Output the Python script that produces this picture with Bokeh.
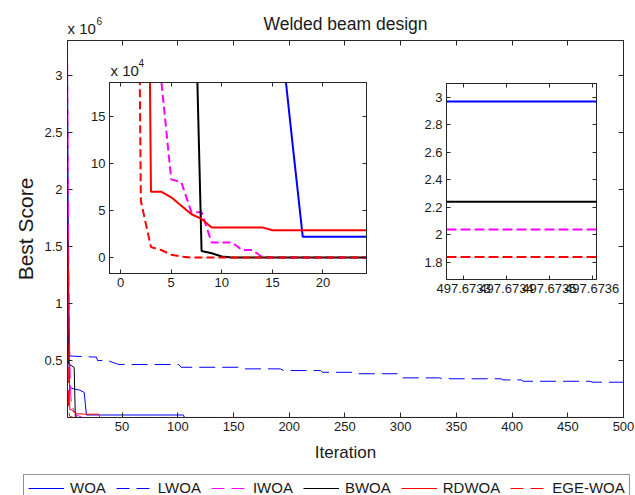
import numpy as np
from bokeh.plotting import figure
from bokeh.models import (Range1d, LinearAxis, FixedTicker, Legend, LegendItem, Label, Span)
from bokeh.embed import file_html
from bokeh.resources import INLINE

FONT = "Liberation Sans"
TXT = "#1a1a1a"
AX = "#262626"

# ---------------- data (iteration, best score) ----------------
woa_it = [1, 2, 3, 5, 12, 16, 17, 18, 105, 106, 500]
woa_v = [1.93e6, 0.6e6, 0.27e6, 0.255e6, 0.24e6, 0.22e6, 0.12e6, 2.2e4, 2.2e4, 2.97, 2.97]

lwoa_it = [1, 2, 3, 27, 28, 37, 47, 101, 103, 155, 159, 192, 195, 228, 230, 258, 262,
           297, 300, 335, 338, 390, 392, 408, 410, 470, 472, 500]
lwoa_v = [3.2e6, 1.0e6, 0.54e6, 0.53e6, 0.50e6, 0.50e6, 0.465e6, 0.465e6, 0.441e6, 0.441e6,
          0.427e6, 0.427e6, 0.412e6, 0.412e6, 0.397e6, 0.397e6, 0.384e6, 0.384e6, 0.348e6,
          0.348e6, 0.34e6, 0.34e6, 0.33e6, 0.33e6, 0.318e6, 0.318e6, 0.31e6, 0.31e6]

iwoa_it = [1, 2, 3, 4, 5, 6, 7, 8, 9, 11, 12, 13, 14, 15, 500]
iwoa_v = [3.31e6, 1.5e6, 0.5e6, 1.9e5, 8.3e4, 8.0e4, 4.8e4, 4.8e4, 1.6e4, 1.6e4, 0.8e4, 0.8e4,
          0.05e4, 2.04, 2.04]

bwoa_it = [1, 2, 7, 8, 9, 10, 11, 500]
bwoa_v = [0.9e6, 0.47e6, 0.44e6, 0.7e4, 0.45e4, 0.1e4, 2.24, 2.24]

rdwoa_it = [1, 2, 3, 4, 5, 6, 7, 8, 9, 14, 15, 29, 30, 500]
rdwoa_v = [1.8e6, 1.2e6, 7.0e4, 7.0e4, 6.4e4, 5.5e4, 4.6e4, 4.1e4, 3.2e4, 3.2e4, 2.9e4, 2.9e4,
           3.5, 3.5]

ege_it = [1, 2, 3, 4, 5, 6, 7, 500]
ege_v = [1.25e6, 6.0e4, 1.1e4, 0.8e4, 0.3e4, 0.1e4, 1.84, 1.84]

names = ["WOA", "LWOA", "IWOA", "BWOA", "RDWOA", "EGE-WOA"]
colors = ["#0000ff", "#0000ff", "#ff00ff", "#000000", "#ff0000", "#ff0000"]
dashed = [False, True, True, False, False, True]
series_it = [woa_it, lwoa_it, iwoa_it, bwoa_it, rdwoa_it, ege_it]
series_v = [woa_v, lwoa_v, iwoa_v, bwoa_v, rdwoa_v, ege_v]

# ticks
main_xticks = [50, 100, 150, 200, 250, 300, 350, 400, 450, 500]
main_yticks = [0.5e6, 1e6, 1.5e6, 2e6, 2.5e6, 3e6]
main_ylabels = ["0.5", "1", "1.5", "2", "2.5", "3"]
in1_xticks = [0, 5, 10, 15, 20]
in1_yticks = [0, 5e4, 10e4, 15e4]
in1_ylabels = ["0", "5", "10", "15"]
in2_xticks = [497.6733, 497.6734, 497.6735, 497.6736]
in2_xlabels = ["497.6733", "497.6734", "497.6735", "497.6736"]
in2_yticks = [1.8, 2.0, 2.2, 2.4, 2.6, 2.8, 3.0]
in2_ylabels = ["1.8", "2", "2.2", "2.4", "2.6", "2.8", "3"]


def style_axis(ax, ticks, tick_len, labels=None, size="13px"):
    ax.ticker = FixedTicker(ticks=ticks)
    if labels is not None:
        ax.major_label_overrides = {float(t): l for t, l in zip(ticks, labels)}
    ax.major_tick_in = tick_len
    ax.major_tick_out = 0
    ax.minor_tick_line_color = None
    ax.axis_line_color = AX
    ax.major_tick_line_color = AX
    ax.major_label_text_font = FONT
    ax.major_label_text_font_size = size
    ax.major_label_text_color = TXT
    ax.axis_label_text_font = FONT
    ax.axis_label_text_font_style = "normal"
    ax.axis_label_text_color = TXT


def box_axes(fig, xticks, yticks, tick_len):
    for loc, ticks in (("above", xticks), ("right", yticks)):
        ax = LinearAxis(ticker=FixedTicker(ticks=ticks),
                        major_label_overrides={float(t): "" for t in ticks},
                        major_label_text_font_size="1px",
                        major_label_standoff=0, major_tick_in=tick_len, major_tick_out=0,
                        minor_tick_line_color=None, axis_line_color=AX,
                        major_tick_line_color=AX)
        fig.add_layout(ax, loc)


# ---------------- main figure ----------------
p = figure(width=635, height=495, x_range=Range1d(1, 500), y_range=Range1d(1.84, 3.31e6),
           output_backend="svg", toolbar_location=None, title=None,
           min_border_left=67, min_border_right=12, min_border_top=40, min_border_bottom=78,
           background_fill_color="white", border_fill_color="white")
p.grid.visible = False
p.outline_line_color = AX

style_axis(p.xaxis[0], main_xticks, 5)
style_axis(p.yaxis[0], main_yticks, 5, main_ylabels)
p.xaxis[0].axis_label = "Iteration"
p.yaxis[0].axis_label = "Best Score"
p.xaxis[0].axis_label_text_font_size = "17px"
p.yaxis[0].axis_label_text_font_size = "21px"
p.xaxis[0].major_label_standoff = 4
p.yaxis[0].major_label_standoff = 5
p.xaxis[0].axis_label_standoff = 9
p.yaxis[0].axis_label_standoff = 4
box_axes(p, main_xticks, main_yticks, 5)

for it, v, c, d in zip(series_it, series_v, colors, dashed):
    p.line(it, v, line_color=c, line_width=1, line_dash=("16 7" if d else "solid"))

# ---------------- inset 1 ----------------
i1 = figure(frame_width=257, frame_height=191, x_range=Range1d(-1.1, 24.3),
            y_range=Range1d(-1.7e4, 18.6e4), output_backend="svg", toolbar_location=None,
            title=None,
            min_border_left=30, min_border_right=4, min_border_top=26, min_border_bottom=22,
            background_fill_color="white", border_fill_alpha=0)
i1.grid.visible = False
i1.outline_line_color = AX
style_axis(i1.xaxis[0], in1_xticks, 4)
style_axis(i1.yaxis[0], in1_yticks, 4, in1_ylabels)
i1.xaxis[0].major_label_standoff = 4
i1.yaxis[0].major_label_standoff = 4
box_axes(i1, in1_xticks, in1_yticks, 4)
for it, v, c, d in zip(series_it, series_v, colors, dashed):
    i1.line(it, v, line_color=c, line_width=2, line_dash=("8 4" if d else "solid"))

# ---------------- inset 2 (final values) ----------------
i2 = figure(frame_width=150, frame_height=196, x_range=Range1d(497.67326, 497.67361),
            y_range=Range1d(1.676, 3.10), output_backend="svg", toolbar_location=None,
            title=None,
            min_border_left=35, min_border_right=38, min_border_top=8, min_border_bottom=24,
            background_fill_color="white", border_fill_alpha=0)
i2.grid.visible = False
i2.outline_line_color = AX
style_axis(i2.xaxis[0], in2_xticks, 4, in2_xlabels)
style_axis(i2.yaxis[0], in2_yticks, 4, in2_ylabels)
i2.xaxis[0].major_label_standoff = 4
i2.yaxis[0].major_label_standoff = 4
box_axes(i2, in2_xticks, in2_yticks, 4)
for v, c, d in zip(series_v, colors, dashed):
    i2.add_layout(Span(location=v[-1], dimension="width", line_color=c, line_width=2,
                       line_dash=("10 4" if d else "solid")))

# ---------------- overlay: title, exponents, legend ----------------
ov = figure(width=635, height=495, x_range=Range1d(0, 635), y_range=Range1d(0, 495),
            output_backend="svg", toolbar_location=None, title=None,
            x_axis_location=None, y_axis_location=None, min_border=0,
            background_fill_alpha=0, border_fill_alpha=0)
ov.outline_line_color = None
ov.grid.visible = False

# legend proxies: the real series, kept hidden in the overlay
items = []
for n, it, v, c, d in zip(names, series_it, series_v, colors, dashed):
    r = ov.line(it, v, line_color=c, line_width=1, line_dash=("13 7" if d else "solid"),
                visible=False)
    items.append(LegendItem(label=n, renderers=[r]))
leg = Legend(items=items, orientation="horizontal", location=(23, -6),
             label_text_font=FONT, label_text_font_size="15px", label_text_color=TXT,
             glyph_width=36, glyph_height=16, label_height=16, label_standoff=6,
             spacing=10, padding=4, margin=0, border_line_color=AX,
             background_fill_color="white", background_fill_alpha=1)
ov.add_layout(leg)

texts = [(345, 472, "Welded beam design", "17.5px", "center"),
         (67, 467, "x 10", "15px", "left"), (96, 475, "6", "10px", "left"),
         (110, 425, "x 10", "15px", "left"), (138, 433, "4", "10px", "left")]
for x, y, t, s, a in texts:
    ov.add_layout(Label(x=x, y=y, x_units="screen", y_units="screen", text=t,
                        text_font=FONT, text_font_size=s, text_color=TXT,
                        text_align=a, text_baseline="alphabetic"))

p.styles = {"position": "absolute", "left": "0px", "top": "0px"}
i1.styles = {"position": "absolute", "left": "79px", "top": "56px"}
i2.styles = {"position": "absolute", "left": "411px", "top": "75px"}
ov.styles = {"position": "absolute", "left": "0px", "top": "0px"}

open("out.html", "w").write(file_html([p, i1, i2, ov], INLINE))
